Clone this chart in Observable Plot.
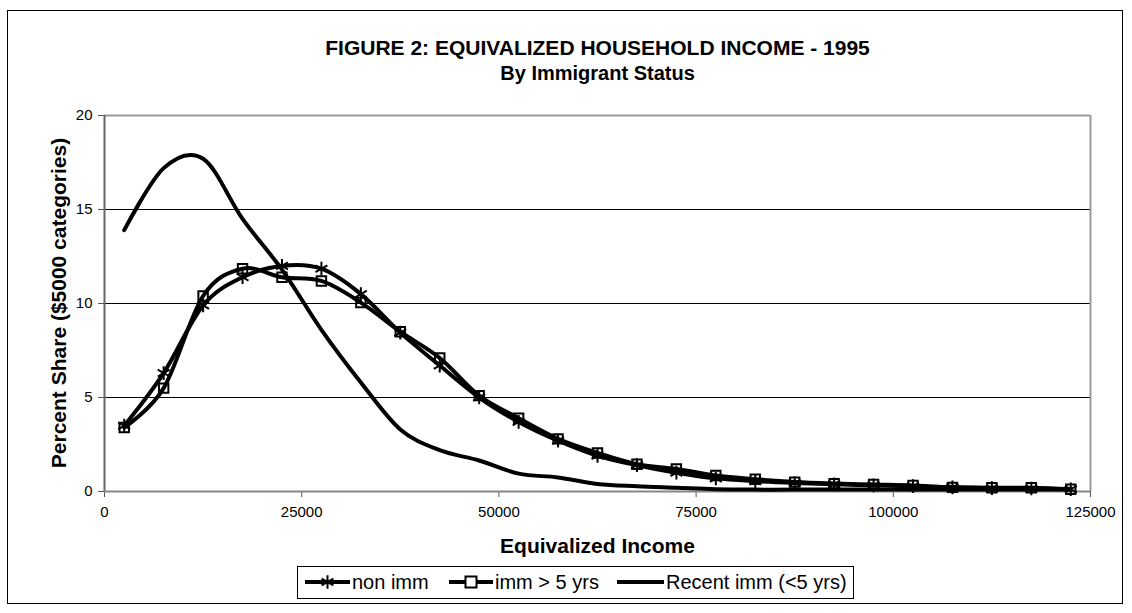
<!DOCTYPE html>
<html>
<head>
<meta charset="utf-8">
<script src="https://cdn.jsdelivr.net/npm/d3@7"></script>
<script src="https://cdn.jsdelivr.net/npm/@observablehq/plot@0.6"></script>
<style>
  html, body { margin: 0; padding: 0; background: white; }
  #chart { width: 1132px; height: 613px; }
</style>
</head>
<body>
<div id="chart"></div>
<script>
// ---- data ----
const incomes = [2500, 7500, 12500, 17500, 22500, 27500, 32500, 37500, 42500, 47500,
                 52500, 57500, 62500, 67500, 72500, 77500, 82500, 87500, 92500, 97500,
                 102500, 107500, 112500, 117500, 122500];
const nonImm = [3.5, 6.3, 9.9, 11.4, 12.0, 11.85, 10.5, 8.45, 6.7, 5.0,
                3.7, 2.7, 1.9, 1.4, 1.0, 0.7, 0.55, 0.45, 0.38, 0.33,
                0.28, 0.22, 0.18, 0.16, 0.12];
const immOver5 = [3.4, 5.5, 10.4, 11.85, 11.4, 11.2, 10.05, 8.5, 7.1, 5.1,
                  3.9, 2.8, 2.05, 1.45, 1.2, 0.85, 0.65, 0.5, 0.42, 0.37,
                  0.32, 0.22, 0.2, 0.2, 0.12];
const recentImm = [13.9, 17.2, 17.7, 14.5, 11.8, 8.6, 5.8, 3.3, 2.2, 1.65,
                   0.95, 0.75, 0.4, 0.28, 0.2, 0.12, 0.1, 0.1, 0.1, 0.1,
                   0.1, 0.1, 0.1, 0.1, 0.1];
const seriesNames = ["non imm", "imm > 5 yrs", "Recent imm (<5 yrs)"];
const xTicks = [0, 25000, 50000, 75000, 100000, 125000];
const yTicks = [0, 5, 10, 15, 20];
const gridVals = [5, 10, 15];
const titleText = "FIGURE 2: EQUIVALIZED HOUSEHOLD INCOME - 1995";
const subtitleText = "By Immigrant Status";
const xLabel = "Equivalized Income";
const yLabel = "Percent Share ($5000 categories)";

const toRows = (vals) => incomes.map((x, i) => ({x, y: vals[i]}));
const rNon = toRows(nonImm), rImm = toRows(immOver5), rRec = toRows(recentImm);

const font = "'Liberation Sans', Arial, Helvetica, sans-serif";
const lineOpts = {x: "x", y: "y", stroke: "black", strokeWidth: 4, curve: "cardinal", tension: 0, strokeLinejoin: "round", strokeLinecap: "round"};

const chart = Plot.plot({
  width: 1132, height: 613,
  marginLeft: 104, marginRight: 42, marginTop: 115, marginBottom: 122,
  style: {fontFamily: font, fontSize: "15px", background: "white", color: "black", overflow: "visible"},
  x: {domain: [0, 125000]},
  y: {domain: [0, 20]},
  marks: [
    Plot.ruleY(gridVals, {stroke: "black", strokeWidth: 1}),
    Plot.ruleY([20], {stroke: "#9a9a9a", strokeWidth: 2}),
    Plot.ruleX([125000], {stroke: "#9a9a9a", strokeWidth: 2}),
    Plot.axisY({ticks: yTicks, tickSize: 6, tickPadding: 6, label: null, fontSize: 15, stroke: "#555"}),
    Plot.axisX({ticks: xTicks, tickSize: 6, tickPadding: 9, tickFormat: d3.format("d"), label: null, fontSize: 15, stroke: "#555"}),
    Plot.ruleX([0], {stroke: "#666", strokeWidth: 2}),
    Plot.ruleY([0], {stroke: "#888", strokeWidth: 2}),
    Plot.line(rRec, lineOpts),
    Plot.line(rImm, lineOpts),
    Plot.line(rNon, lineOpts),
    Plot.dot(rImm, {x: "x", y: "y", symbol: "square2", r: 6, stroke: "black", strokeWidth: 2, fill: "none"}),
    Plot.dot(rNon, {x: "x", y: "y", symbol: "asterisk", r: 6.5, stroke: "black", strokeWidth: 2}),
    Plot.text([titleText], {text: d => d, frameAnchor: "top", dy: -75, fontWeight: "bold", fontSize: 21}),
    Plot.text([subtitleText], {text: d => d, frameAnchor: "top", dy: -50, fontWeight: "bold", fontSize: 20}),
    Plot.text([xLabel], {text: d => d, frameAnchor: "bottom", dy: 61, fontWeight: "bold", fontSize: 21})
  ]
});

const svg = d3.select(chart);
// outer border
svg.insert("rect", ":first-child")
  .attr("x", 7.5).attr("y", 10.5).attr("width", 1115).attr("height", 593)
  .attr("fill", "white").attr("stroke", "black").attr("stroke-width", 1);

// y-axis title
svg.append("text")
  .attr("transform", "translate(59,303) rotate(-90)")
  .attr("text-anchor", "middle").attr("dy", "0.35em")
  .attr("font-family", font).attr("font-weight", "bold").attr("font-size", 21)
  .text(yLabel);

// legend
const lg = svg.append("g").attr("font-family", font).attr("font-size", 20).attr("text-anchor", "start");
const ly = 582;
lg.append("rect").attr("x", 297.5).attr("y", 566.5).attr("width", 556).attr("height", 32)
  .attr("fill", "white").attr("stroke", "black").attr("stroke-width", 1);
const items = [
  {x0: 305, x1: 350, tx: 352, marker: "asterisk"},
  {x0: 449, x1: 493, tx: 495, marker: "square"},
  {x0: 617, x1: 664, tx: 666, marker: null}
];
items.forEach((it, i) => {
  lg.append("line").attr("x1", it.x0).attr("x2", it.x1).attr("y1", ly).attr("y2", ly)
    .attr("stroke", "black").attr("stroke-width", 4);
  const cx = (it.x0 + it.x1) / 2;
  if (it.marker === "asterisk") {
    lg.append("path").attr("d", d3.symbol(d3.symbolAsterisk, 130)())
      .attr("transform", `translate(${cx},${ly})`).attr("stroke", "black").attr("stroke-width", 2).attr("fill", "none");
  } else if (it.marker === "square") {
    lg.append("rect").attr("x", cx - 5.5).attr("y", ly - 5.5).attr("width", 11).attr("height", 11)
      .attr("fill", "white").attr("stroke", "black").attr("stroke-width", 2);
  }
  lg.append("text").attr("x", it.tx).attr("y", ly).attr("dy", "0.35em").attr("text-anchor", "start").text(seriesNames[i]);
});

document.getElementById("chart").appendChild(chart);
</script>
</body>
</html>
